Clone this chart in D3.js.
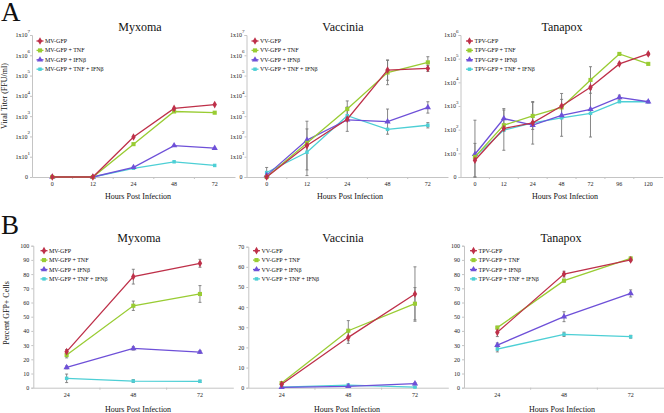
<!DOCTYPE html>
<html><head><meta charset="utf-8">
<script src="https://cdn.jsdelivr.net/npm/d3@7"></script>
<style>body{margin:0;background:#fff}</style>
</head><body><svg id="c" width="664" height="413" xmlns="http://www.w3.org/2000/svg"></svg>
<script>
// ---------- data ----------
const namesMV = ["MV-GFP", "MV-GFP + TNF", "MV-GFP + IFNβ", "MV-GFP + TNF + IFNβ"];
const namesVV = ["VV-GFP", "VV-GFP + TNF", "VV-GFP + IFNβ", "VV-GFP + TNF + IFNβ"];
const namesTPV = ["TPV-GFP", "TPV-GFP + TNF", "TPV-GFP + IFNβ", "TPV-GFP + TNF + IFNβ"];

const hoursA = ["0", "12", "24", "48", "72"];
const hoursTPV = ["0", "12", "24", "48", "72", "96", "120"];
const hoursB = ["24", "48", "72"];

// Panel A: log10 viral titer (FFU/ml)
const mvTiterLog = [
  [0, 0, 1.97, 3.38, 3.57],
  [0, 0, 1.62, 3.23, 3.17],
  [0, 0, 0.48, 1.55, 1.42],
  [0, 0, 0.43, 0.75, 0.57]
];
const mvTiterErr = [
  [0, 0, 0, 0, 0],
  [0, 0, 0, 0, 0],
  [0, 0, 0, 0, 0],
  [0, 0, 0, 0, 0]
];
const vvTiterLog = [
  [0.0, 1.55, 2.85, 5.27, 5.35],
  [0.0, 1.68, 3.35, 5.15, 5.65],
  [0.08, 1.82, 2.82, 2.73, 3.43],
  [0.22, 1.22, 3.02, 2.35, 2.55]
];
const vvTiterErr = [
  [0, 1.2, 0.6, 0.5, 0.15],
  [0, 0, 0.4, 0.6, 0.28],
  [0, 0, 0, 0.62, 0.28],
  [0.25, 1.15, 0, 0, 0.13]
];
const tpvTiterLog = [
  [0.71, 2.05, 2.29, 3.0, 3.79, 4.78, 5.2],
  [0.85, 2.19, 2.58, 2.94, 4.1, 5.2, 4.78],
  [0.96, 2.47, 2.19, 2.6, 2.86, 3.36, 3.18],
  [0.85, 1.98, 2.29, 2.5, 2.69, 3.18, 3.18]
];
const tpvTiterErr = [
  [0.71, 0, 0, 0.53, 0, 0, 0.05],
  [0, 0, 0.57, 0, 0.56, 0, 0],
  [1.44, 0.42, 0, 0, 0, 0.1, 0],
  [0, 0.85, 0.9, 0.78, 1.0, 0, 0.05]
];
const titerTicksA = [0, 1, 2, 3, 4, 5, 6, 7];
const titerTicksTPV = [0, 1, 2, 3, 4, 5, 6];

// Panel B: percent GFP+ cells
const mvPercent = [
  [25.4, 78.2, 87.6],
  [23.0, 57.7, 66.0],
  [14.3, 27.7, 25.1],
  [6.6, 4.7, 4.5]
];
const mvPercentErr = [
  [1.5, 5.2, 2.8],
  [2.0, 3.3, 5.9],
  [1.0, 1.2, 1.0],
  [3.0, 1.0, 0.8]
];
const vvPercent = [
  [1.7, 25.0, 46.5],
  [2.3, 28.3, 41.7],
  [0.2, 0.7, 2.0],
  [0.3, 1.3, 0.3]
];
const vvPercentErr = [
  [0.5, 3.0, 13.5],
  [0.5, 5.0, 8.0],
  [0.2, 0.3, 0.5],
  [0.2, 0.5, 0.2]
];
const tpvPercent = [
  [39.0, 80.0, 90.0],
  [42.3, 75.4, 91.0],
  [30.0, 50.0, 66.4],
  [27.2, 37.6, 35.9]
];
const tpvPercentErr = [
  [3.0, 2.0, 1.0],
  [1.0, 1.0, 1.0],
  [1.5, 3.5, 2.5],
  [2.0, 1.5, 1.0]
];
const pctTicks100 = [0, 10, 20, 30, 40, 50, 60, 70, 80, 90, 100];
const pctTicks70 = [0, 10, 20, 30, 40, 50, 60, 70];

// ---------- drawing ----------
const svg = d3.select("#c");
const FONT = '"Liberation Serif", "Times New Roman", serif';
const colors = ["#BE3049", "#99CC33", "#6E50D8", "#4DCFD5"];
const symbols = [d3.symbolDiamond, d3.symbolSquare, d3.symbolTriangle, d3.symbolSquare];
const symSizes = [17, 17, 17, 12];
const axisColor = "#c4c4c4";
const errColor = "#7a7a7a";

function panel(o) {
  const g = svg.append("g");
  const x = d3.scaleBand().domain(o.cats).range([o.x0, o.x1]).padding(0);
  const y = d3.scaleLinear().domain(o.yDomain).range([o.yBottom, o.yTop]);
  const cx = c => x(c) + x.bandwidth() / 2;

  // x axis
  const xa = g.append("g").attr("transform", `translate(0,${o.yBottom})`)
    .call(d3.axisBottom(x).tickSize(0).tickPadding(5));
  xa.attr("font-family", null).attr("font-size", null);
  xa.select(".domain").attr("stroke", axisColor);
  xa.selectAll("text").style("font-family", FONT).style("font-size", "6px").attr("fill", "#222");
  xa.selectAll("line.sep").data(o.cats.slice(1)).join("line").attr("class", "sep")
    .attr("x1", c => x(c)).attr("x2", c => x(c)).attr("y1", 0).attr("y2", 2)
    .attr("stroke", axisColor);

  // y axis
  const ya = g.append("g").attr("transform", `translate(${o.x0},0)`)
    .call(d3.axisLeft(y).tickValues(o.yTicks).tickSize(2).tickPadding(2).tickFormat(o.log ? () => "" : d3.format("d")));
  ya.attr("font-family", null).attr("font-size", null);
  ya.select(".domain").attr("stroke", axisColor);
  ya.selectAll("line").attr("stroke", axisColor);
  ya.selectAll("text").style("font-family", FONT).style("font-size", "6px").attr("fill", "#222");
  if (o.log) {
    ya.selectAll(".tick").each(function (d) {
      const t = d3.select(this).select("text").attr("dy", "0.32em");
      if (d === 0) { t.attr("x", -4).text("0"); return; }
      t.attr("x", -2);
      t.append("tspan").text("1x10");
      t.append("tspan").style("font-size", "5px").attr("dy", "-0.9em").text(String(d));
    });
  }

  // title
  g.append("text").attr("x", o.titleX).attr("y", o.titleY).attr("text-anchor", "middle")
    .style("font-family", FONT).style("font-size", "12px").attr("fill", "#111").text(o.title);
  // x title
  g.append("text").attr("x", o.xTitleX).attr("y", o.xTitleY).attr("text-anchor", "middle")
    .style("font-family", FONT).style("font-size", "8px").attr("fill", "#111").text("Hours Post Infection");

  // error bars
  o.values.forEach((vals, si) => {
    vals.forEach((v, i) => {
      const e = o.errs[si][i];
      if (!e) return;
      const xx = cx(o.cats[i]);
      const lo = Math.max(o.yDomain[0], v - e), hi = v + e;
      g.append("line").attr("x1", xx).attr("x2", xx).attr("y1", y(lo)).attr("y2", y(hi))
        .attr("stroke", errColor).attr("stroke-width", 0.9);
      [lo, hi].forEach(b => g.append("line").attr("x1", xx - 1.5).attr("x2", xx + 1.5)
        .attr("y1", y(b)).attr("y2", y(b)).attr("stroke", errColor).attr("stroke-width", 0.9));
    });
  });

  // lines and markers
  const line = d3.line().x((d, i) => cx(o.cats[i])).y(d => y(d));
  for (let si = o.values.length - 1; si >= 0; si--) {
    g.append("path").datum(o.values[si]).attr("d", line).attr("fill", "none")
      .attr("stroke", colors[si]).attr("stroke-width", 1.3);
    g.selectAll(null).data(o.values[si]).join("path")
      .attr("transform", (d, i) => `translate(${cx(o.cats[i])},${y(d)})`)
      .attr("d", d3.symbol(symbols[si], symSizes[si])).attr("fill", colors[si]);
  }

  // legend
  o.names.forEach((n, si) => {
    const ly = o.legY + si * 9.4;
    g.append("line").attr("x1", o.legX - 3.5).attr("x2", o.legX + 3.5).attr("y1", ly).attr("y2", ly)
      .attr("stroke", colors[si]).attr("stroke-width", 1.3);
    g.append("path").attr("transform", `translate(${o.legX},${ly})`)
      .attr("d", d3.symbol(symbols[si], symSizes[si])).attr("fill", colors[si]);
    g.append("text").attr("x", o.legX + 5).attr("y", ly).attr("dy", "0.34em")
      .style("font-family", FONT).style("font-size", "6px").attr("fill", "#111").text(n);
  });
}

// Panel A
panel({ cats: hoursA, names: namesMV, values: mvTiterLog, errs: mvTiterErr, log: true,
  x0: 32, x1: 235, yBottom: 177, yTop: 35, yDomain: [0, 7], yTicks: titerTicksA,
  title: "Myxoma", titleX: 140, titleY: 31, xTitleX: 138, xTitleY: 199, legX: 40, legY: 41 });
panel({ cats: hoursA, names: namesVV, values: vvTiterLog, errs: vvTiterErr, log: true,
  x0: 246.5, x1: 448, yBottom: 177, yTop: 35, yDomain: [0, 7], yTicks: titerTicksA,
  title: "Vaccinia", titleX: 343, titleY: 31, xTitleX: 350, xTitleY: 199, legX: 255, legY: 41 });
panel({ cats: hoursTPV, names: namesTPV, values: tpvTiterLog, errs: tpvTiterErr, log: true,
  x0: 460.5, x1: 662.7, yBottom: 177, yTop: 35, yDomain: [0, 6], yTicks: titerTicksTPV,
  title: "Tanapox", titleX: 562, titleY: 31, xTitleX: 565, xTitleY: 199, legX: 469.5, legY: 41 });

// Panel B
panel({ cats: hoursB, names: namesMV, values: mvPercent, errs: mvPercentErr, log: false,
  x0: 33.3, x1: 233.3, yBottom: 387.7, yTop: 245.7, yDomain: [0, 100], yTicks: pctTicks100,
  title: "Myxoma", titleX: 139, titleY: 241.5, xTitleX: 138, xTitleY: 411.5, legX: 44, legY: 250.7 });
panel({ cats: hoursB, names: namesVV, values: vvPercent, errs: vvPercentErr, log: false,
  x0: 248.3, x1: 448.3, yBottom: 387.7, yTop: 246.7, yDomain: [0, 70], yTicks: pctTicks70,
  title: "Vaccinia", titleX: 343, titleY: 241.5, xTitleX: 347, xTitleY: 411.5, legX: 256.5, legY: 250.7 });
panel({ cats: hoursB, names: namesTPV, values: tpvPercent, errs: tpvPercentErr, log: false,
  x0: 464, x1: 664, yBottom: 387.7, yTop: 245.7, yDomain: [0, 100], yTicks: pctTicks100,
  title: "Tanapox", titleX: 561, titleY: 241.5, xTitleX: 562, xTitleY: 411.5, legX: 473.5, legY: 250.7 });

// panel letters and y titles
svg.append("text").attr("x", 1).attr("y", 21).style("font-family", FONT).style("font-size", "27px").attr("fill", "#111").text("A");
svg.append("text").attr("x", 1).attr("y", 234).style("font-family", FONT).style("font-size", "27px").attr("fill", "#111").text("B");
svg.append("text").attr("transform", "translate(7,96) rotate(-90)").attr("text-anchor", "middle")
  .style("font-family", FONT).style("font-size", "8px").attr("fill", "#111").text("Viral Titer (FFU/ml)");
svg.append("text").attr("transform", "translate(9,313) rotate(-90)").attr("text-anchor", "middle")
  .style("font-family", FONT).style("font-size", "8px").attr("fill", "#111").text("Percent GFP+ Cells");
</script>
</body></html>
